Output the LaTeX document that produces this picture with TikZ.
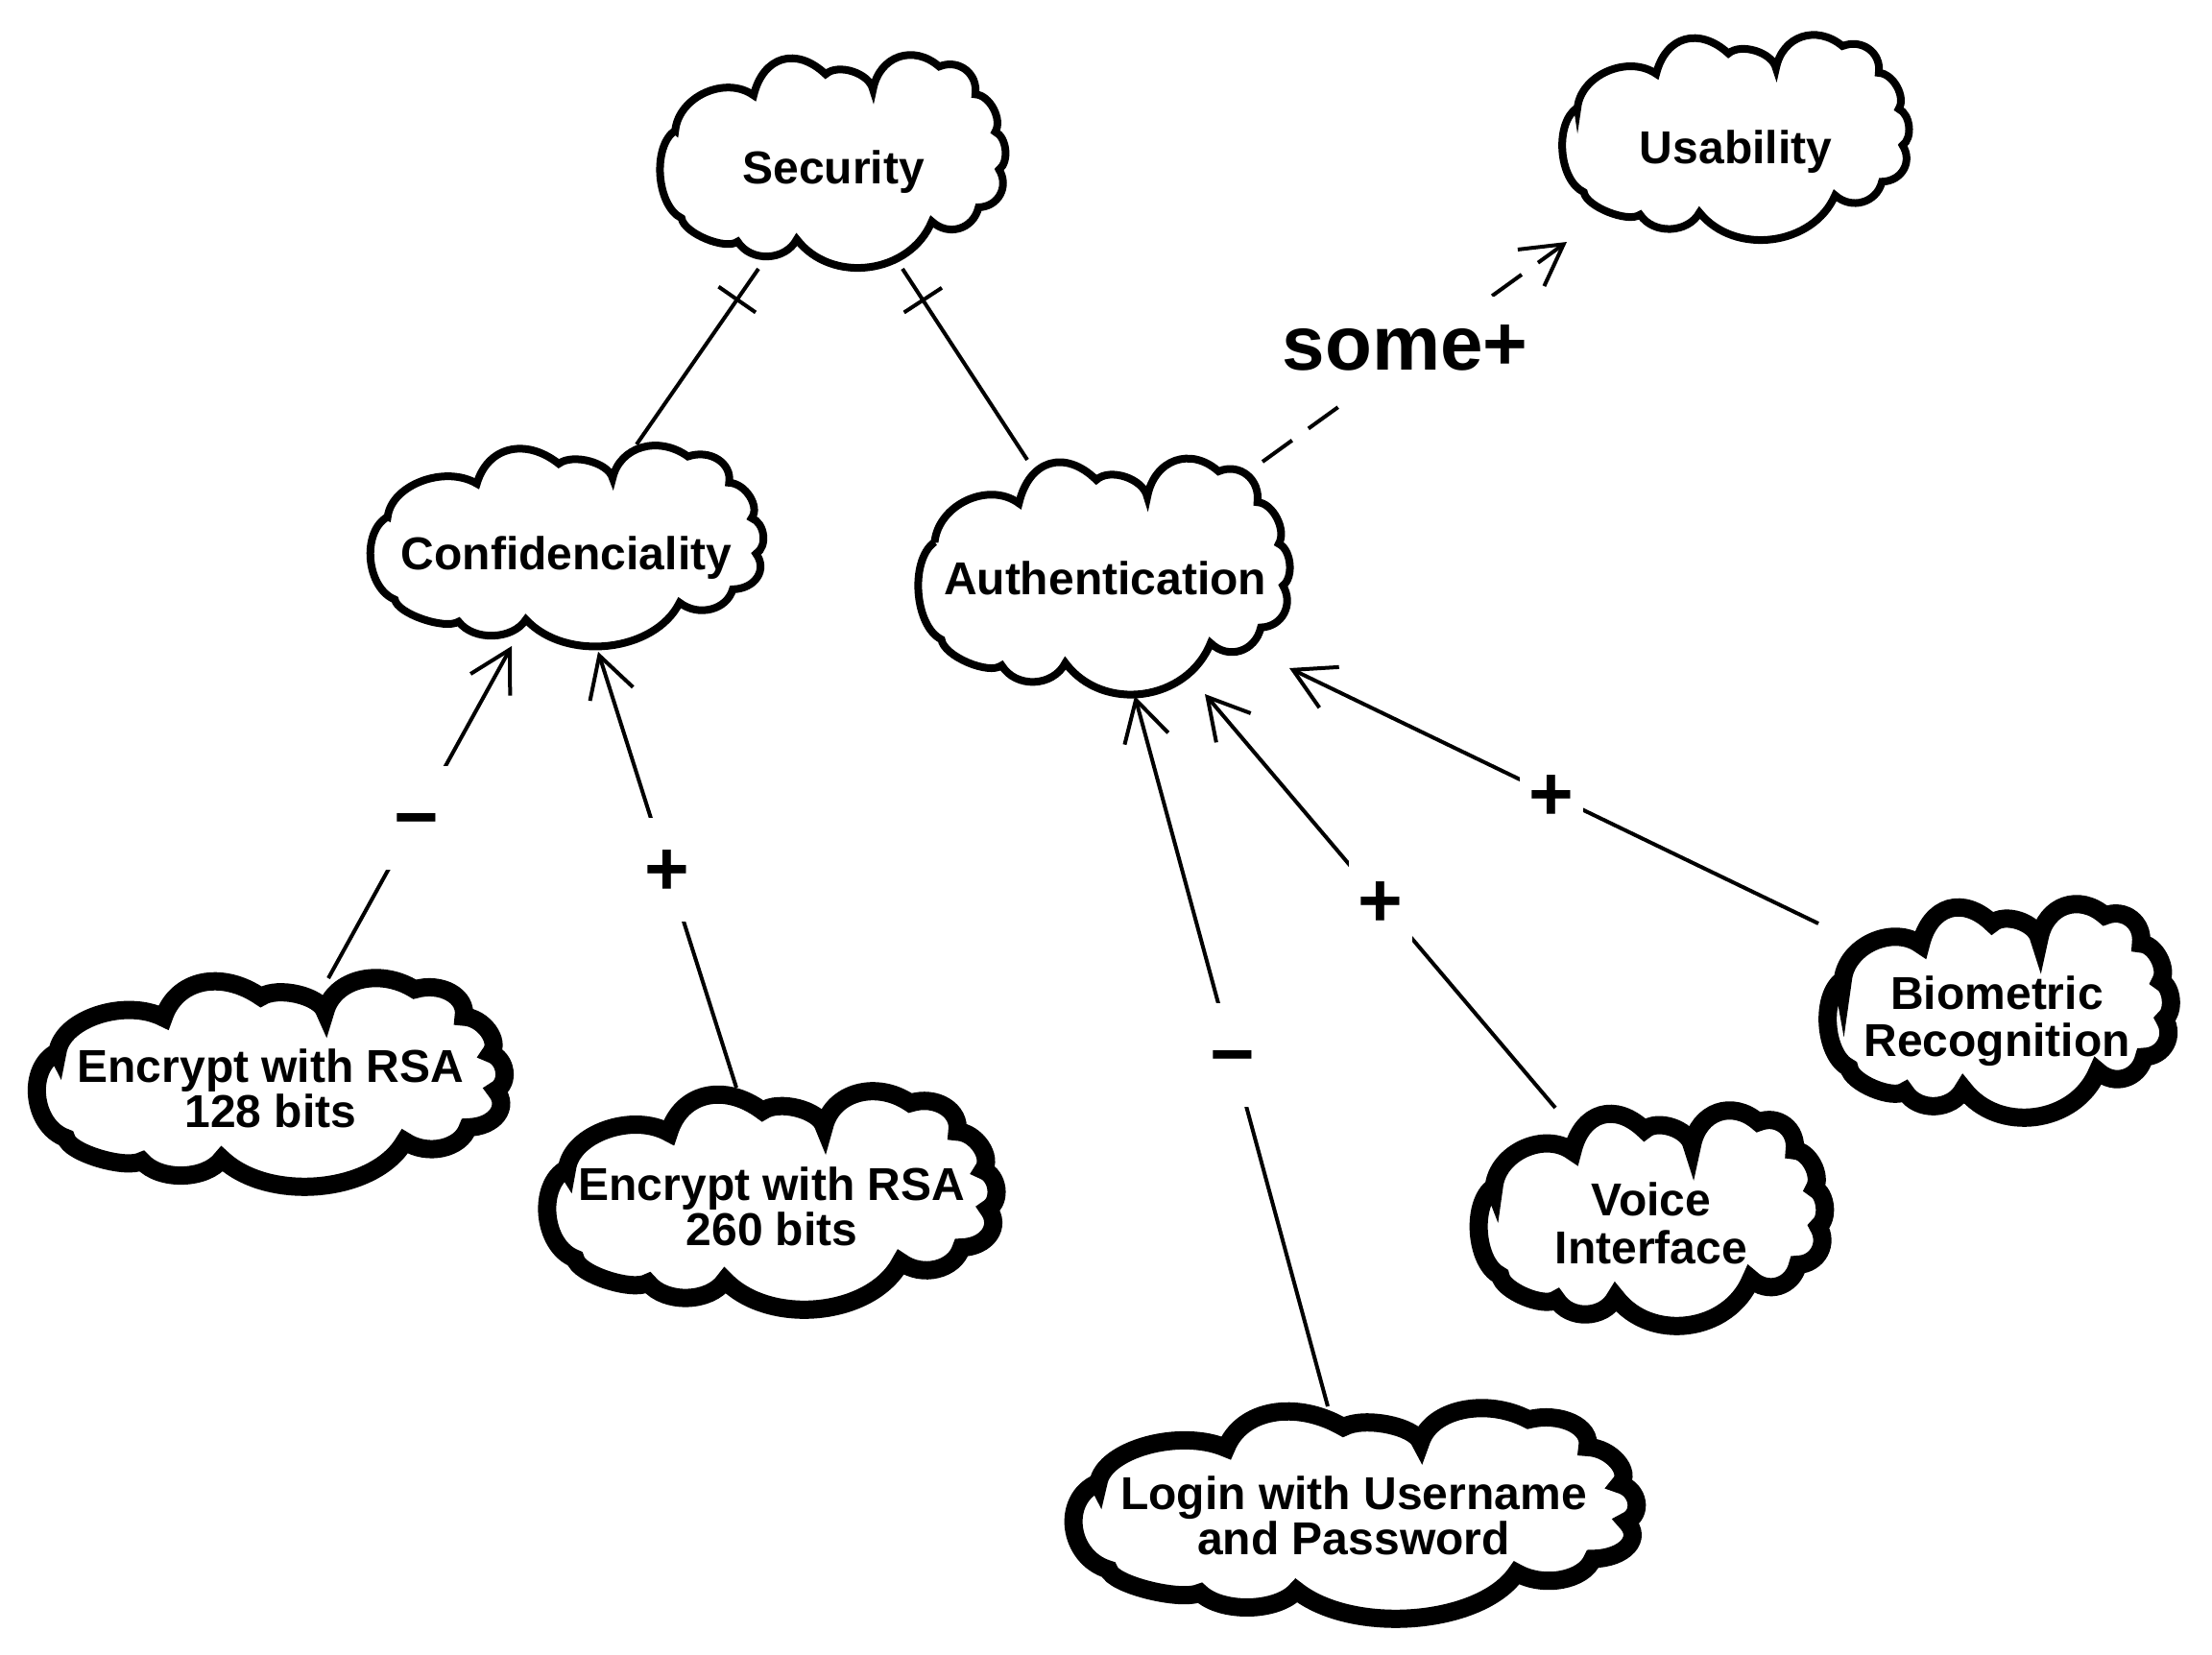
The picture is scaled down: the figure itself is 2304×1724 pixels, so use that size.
\documentclass[tikz,border=0pt]{standalone}
\usepackage{fontspec}
\setmainfont{Liberation Sans}
\usetikzlibrary{arrows.meta,calc}
\newcommand\cloudat[5]{%
  \begin{scope}[shift={(#1,#2)},xscale=#3,yscale=#4]
  \draw[line width=#5,fill=white] (0.0419,0.3481)
  .. controls (0.0520,0.1850) and (0.1887,0.0843) .. (0.2698,0.1802)
  .. controls (0.2974,-0.0073) and (0.3941,-0.0537) .. (0.4791,0.0794)
  .. controls (0.5153,0.0255) and (0.6065,0.0740) .. (0.6167,0.1527)
  .. controls (0.6355,-0.0087) and (0.7336,-0.0649) .. (0.8093,0.0427)
  .. controls (0.8660,0.0046) and (0.9225,0.0760) .. (0.9144,0.1756)
  .. controls (0.9561,0.1780) and (0.9942,0.2962) .. (0.9721,0.3542)
  .. controls (1.0060,0.3792) and (1.0135,0.4986) .. (0.9833,0.5344)
  .. controls (1.0134,0.6150) and (0.9814,0.7121) .. (0.9237,0.7145)
  .. controls (0.9087,0.8192) and (0.8356,0.8553) .. (0.7879,0.7817)
  .. controls (0.7245,1.0336) and (0.4966,1.0834) .. (0.3953,0.8672)
  .. controls (0.3619,0.9713) and (0.2614,0.9774) .. (0.2233,0.8779)
  .. controls (0.1887,0.9212) and (0.0660,0.8373) .. (0.0605,0.7664)
  .. controls (-0.0130,0.7079) and (-0.0257,0.4234) .. cycle;
  \end{scope}}
\begin{document}
\begin{tikzpicture}[x=0.5pt,y=-0.5pt,
  cloudtxt/.style={font=\bfseries\fontsize{24pt}{24pt}\selectfont,inner sep=0pt,anchor=base},
  sign/.style={font=\bfseries\fontsize{40pt}{40pt}\selectfont,fill=white,inner sep=0pt,minimum width=33pt,minimum height=54pt},
  signpm/.style={sign,text height=26.8pt,text depth=0pt},
  conn/.style={line width=2pt,draw=black},
  arr/.style={-{Straight Barb[length=21pt,width=23.5pt]}},
  dashpat/.style={dash pattern=on 19pt off 10.5pt}]
\fill[white] (0,0) rectangle (2304,1724);
\useasboundingbox (0,0) rectangle (2304,1724);
% clouds
\cloudat{688.3}{60}{358.3}{218.3}{4pt}
\cloudat{386.7}{466.7}{407.6}{206}{4pt}
\cloudat{957.3}{480.7}{385.4}{242}{4pt}
\cloudat{1628}{39}{359.7}{210.3}{4pt}
\cloudat{39.5}{1021.5}{485}{214}{9.5pt}
\cloudat{571}{1139.5}{466}{224}{9.5pt}
\cloudat{1119.5}{1469.5}{584}{216}{9.5pt}
\cloudat{1541}{1159.5}{359}{221}{9.5pt}
\cloudat{1904.5}{944.5}{356}{219}{9.5pt}
% texts
\node[cloudtxt] (sec) at (868,191.7) {Security};
\node[cloudtxt] (conf) at (590,593.3) {Confidenciality};
\node[cloudtxt] (auth) at (1151,619.3) {Authentication};
\node[cloudtxt] (usab) at (1808,170) {Usability};
\node[cloudtxt] (enca) at (282,1127) {Encrypt with RSA};
\node[cloudtxt] (encab) at (282,1174) {128 bits};
\node[cloudtxt] (encb) at (804,1250) {Encrypt with RSA};
\node[cloudtxt] (encbb) at (804,1297.7) {260 bits};
\node[cloudtxt] (login) at (1410,1572) {Login with Username};
\node[cloudtxt] (loginb) at (1410,1619) {and Password};
\node[cloudtxt] (voice) at (1720,1266.7) {Voice};
\node[cloudtxt] (voiceb) at (1720,1316.7) {Interface};
\node[cloudtxt] (bio) at (2080,1051.7) {Biometric};
\node[cloudtxt] (biob) at (2080,1100) {Recognition};
% connector end points
\coordinate (secL) at (790,280);
\coordinate (confT) at (663,463);
\coordinate (secR) at (940,280);
\coordinate (authT) at (1070,479);
\coordinate (encaT) at (342,1019);
\coordinate (confA) at (533,673);
\coordinate (encbT) at (767,1133);
\coordinate (confB) at (623,679);
\coordinate (loginT) at (1383,1465);
\coordinate (authA) at (1182,725);
\coordinate (voiceT) at (1620,1154);
\coordinate (authB) at (1255,723);
\coordinate (bioT) at (1894,962);
\coordinate (authC) at (1343,696);
\coordinate (authR) at (1315,481);
\coordinate (usabB) at (1632,252);
% decomposition links with ticks
\draw[conn] (secL) -- (confT);
\coordinate (tk1) at ($(secL)!19.5pt!(confT)$);
\draw[conn] ($(tk1)!11.75pt!90:(confT)$) -- ($(tk1)!11.75pt!-90:(confT)$);
\draw[conn] (secR) -- (authT);
\coordinate (tk2) at ($(secR)!19.5pt!(authT)$);
\draw[conn] ($(tk2)!11.75pt!90:(authT)$) -- ($(tk2)!11.75pt!-90:(authT)$);
% contribution links
\draw[conn,arr] (encaT) -- node[signpm,pos=0.483] (l1) {−} (confA);
\draw[conn,arr] (encbT) -- node[signpm,pos=0.5] (l2) {+} (confB);
\draw[conn,arr] (loginT) -- node[signpm,pos=0.495] (l3) {−} (authA);
\draw[conn,arr] (voiceT) -- node[signpm,pos=0.5] (l4) {+} (authB);
\draw[conn,arr] (bioT) -- node[signpm,pos=0.504] (l5) {+} (authC);
\draw[conn,dashpat,arr] (authR) -- node[sign,pos=0.5,xshift=-5pt,yshift=2pt] (l6) {some+} (usabB);
\end{tikzpicture}
\end{document}
